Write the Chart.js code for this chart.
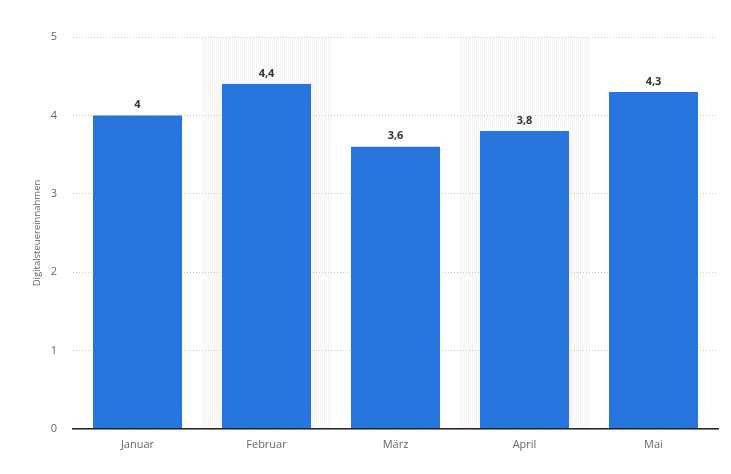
<!DOCTYPE html>
<html>
<head>
<meta charset="utf-8">
<script src="https://cdn.jsdelivr.net/npm/chart.js@4"></script>
<style>
  html, body { margin: 0; padding: 0; background: #fff; }
  #wrap { width: 731px; height: 474px; }
</style>
</head>
<body>
<div id="wrap"><canvas id="c" width="731" height="474"></canvas></div>
<script>
// Monthly digital tax revenue
const months = ['Januar', 'Februar', 'März', 'April', 'Mai'];
const revenue = [4, 4.4, 3.6, 3.8, 4.3];
const yTicks = [0, 1, 2, 3, 4, 5];
const yTitle = 'Digitalsteuereinnahmen';

const FONT = '"Open Sans", "Noto Sans", sans-serif';

// light striped band behind every second month (painted before the grid)
const bandPlugin = {
  id: 'bands',
  beforeDraw(chart) {
    const { ctx, chartArea, scales } = chart;
    const x = scales.x;
    const step = x.getPixelForValue(1) - x.getPixelForValue(0);
    ctx.save();
    months.forEach((m, i) => {
      if (i % 2 === 1) {
        const cx = x.getPixelForValue(i);
        const l = Math.round(cx - step / 2), r = Math.round(cx + step / 2);
        const h = chartArea.bottom - chartArea.top;
        ctx.fillStyle = '#fdfdfd';
        ctx.fillRect(l, chartArea.top, r - l, h);
        ctx.fillStyle = '#f5f5f5';
        for (let px = l; px < r; px += 2) {
          ctx.fillRect(px, chartArea.top, 1, h);
        }
      }
    });
    ctx.restore();
  }
};

// value labels above the bars
const labelPlugin = {
  id: 'valueLabels',
  afterDatasetsDraw(chart) {
    const { ctx } = chart;
    const meta = chart.getDatasetMeta(0);
    ctx.save();
    ctx.font = 'bold 11px ' + FONT;
    ctx.fillStyle = '#333333';
    ctx.textAlign = 'center';
    ctx.textBaseline = 'bottom';
    meta.data.forEach((bar, i) => {
      const txt = String(revenue[i]).replace('.', ',');
      ctx.fillText(txt, bar.x, bar.y - 5);
    });
    ctx.restore();
  }
};

// rotated axis title
const titlePlugin = {
  id: 'yTitle',
  afterDraw(chart) {
    const { ctx, chartArea } = chart;
    ctx.save();
    ctx.translate(37, (chartArea.top + chartArea.bottom) / 2);
    ctx.rotate(-Math.PI / 2);
    ctx.font = '9.5px ' + FONT;
    ctx.fillStyle = '#666666';
    ctx.textAlign = 'center';
    ctx.textBaseline = 'middle';
    ctx.fillText(yTitle, 0, 0);
    ctx.restore();
  }
};

new Chart(document.getElementById('c'), {
  type: 'bar',
  data: {
    labels: months,
    datasets: [{
      data: revenue,
      backgroundColor: '#2874dd',
      borderWidth: 0,
      categoryPercentage: 1,
      barPercentage: 0.69
    }]
  },
  options: {
    responsive: false,
    animation: false,
    devicePixelRatio: 1,
    layout: { padding: { top: 37, right: 13, left: 0, bottom: 0 } },
    plugins: { legend: { display: false }, tooltip: { enabled: false } },
    scales: {
      x: {
        grid: { display: false, drawTicks: false },
        border: { display: true, color: '#222222', width: 1.5, z: 1 },
        ticks: { color: '#666666', font: { family: FONT, size: 11 }, padding: 9 },
        afterFit(s) { s.height = 45; }
      },
      y: {
        min: 0,
        max: 5,
        afterBuildTicks(s) { s.ticks = yTicks.map(v => ({ value: v })); },
        grid: { color: '#c8c8c8', drawTicks: false, lineWidth: 1 },
        border: { display: false, dash: [1, 2] },
        ticks: { color: '#666666', font: { family: FONT, size: 11 }, padding: 16 },
        afterFit(s) { s.width = 73; }
      }
    }
  },
  plugins: [bandPlugin, labelPlugin, titlePlugin]
});
</script>
</body>
</html>
